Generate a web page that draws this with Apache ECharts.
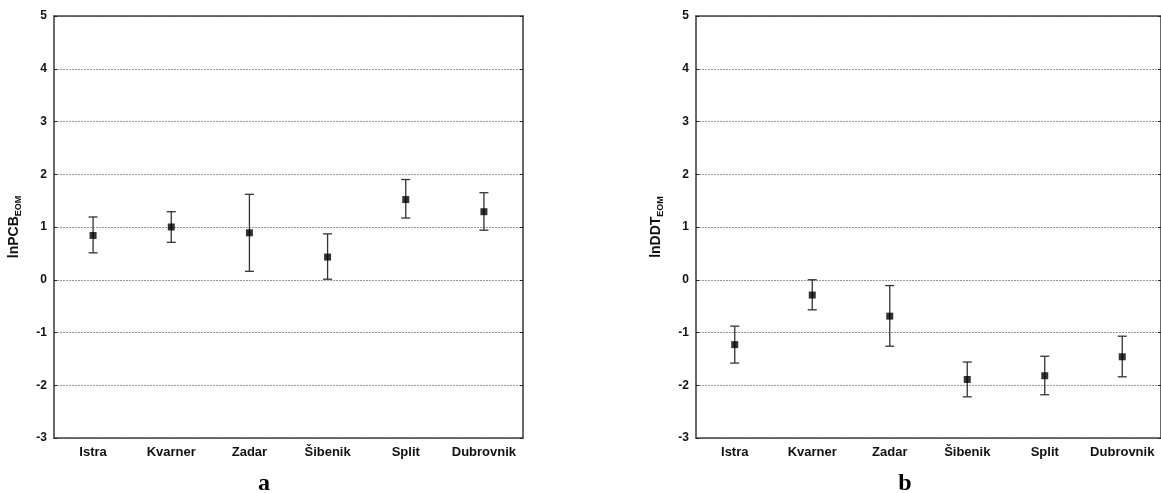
<!DOCTYPE html>
<html>
<head>
<meta charset="utf-8">
<script src="https://cdn.jsdelivr.net/npm/echarts@6/dist/echarts.min.js"></script>
<style>html,body{margin:0;padding:0;background:#fff;}#c{width:1161px;height:493px;}</style>
</head>
<body>
<div id="c"></div>
<script>
const categories = ['Istra', 'Kvarner', 'Zadar', 'Šibenik', 'Split', 'Dubrovnik'];
const yTicks = [-3, -2, -1, 0, 1, 2, 3, 4, 5];

const pcbMean = [0.84, 1.00, 0.89, 0.43, 1.52, 1.29];
const pcbLow  = [0.51, 0.71, 0.16, 0.01, 1.17, 0.94];
const pcbHigh = [1.19, 1.29, 1.62, 0.87, 1.90, 1.65];

const ddtMean = [-1.23, -0.29, -0.69, -1.89, -1.82, -1.46];
const ddtLow  = [-1.58, -0.57, -1.26, -2.22, -2.18, -1.84];
const ddtHigh = [-0.88, 0.00, -0.11, -1.56, -1.45, -1.07];

const FONT = '"Liberation Sans", Arial, sans-serif';
const AX = '#444';

function bottomX(g) {
  return {
    type: 'category', gridIndex: g, data: categories, position: 'bottom',
    axisLine: {onZero: false, lineStyle: {color: AX, width: 1.6}},
    axisTick: {interval: 0, inside: true, length: 4, lineStyle: {color: '#222', width: 1.5}},
    axisLabel: {interval: 0, hideOverlap: false, color: '#111', fontFamily: FONT, fontWeight: 'bold', fontSize: 13, margin: 8},
    splitLine: {show: false}
  };
}
function topX(g) {
  return {
    type: 'category', gridIndex: g, data: categories, position: 'top',
    axisLine: {onZero: false, lineStyle: {color: AX, width: 1.6}},
    axisTick: {interval: 0, inside: true, length: 4, lineStyle: {color: '#222', width: 1.5}},
    axisLabel: {show: false}, splitLine: {show: false}
  };
}
function leftY(g, title) {
  return {
    type: 'value', gridIndex: g, min: yTicks[0], max: yTicks[yTicks.length - 1], interval: 1,
    position: 'left',
    axisLine: {show: true, onZero: false, lineStyle: {color: AX, width: 1.6}},
    axisTick: {show: true, inside: true, length: 3, lineStyle: {color: '#222'}},
    axisLabel: {color: '#111', fontFamily: FONT, fontWeight: 'bold', fontSize: 12, margin: 7},
    splitLine: {show: true, lineStyle: {color: '#999', type: [2, 1], width: 1}},
    name: '{m|' + title + '}{s|EOM}',
    nameLocation: 'middle', nameRotate: 90, nameGap: 33,
    nameTextStyle: {
      rich: {
        m: {fontFamily: FONT, fontWeight: 'bold', fontSize: 14, color: '#111', lineHeight: 16, verticalAlign: 'bottom'},
        s: {fontFamily: FONT, fontWeight: 'bold', fontSize: 9, color: '#111', lineHeight: 16, verticalAlign: 'bottom', padding: [0, 0, -2, 0]}
      }
    }
  };
}
function rightY(g) {
  return {
    type: 'value', gridIndex: g, min: yTicks[0], max: yTicks[yTicks.length - 1], interval: 1,
    position: 'right',
    axisLine: {show: true, onZero: false, lineStyle: {color: AX, width: 1.6}},
    axisTick: {show: true, inside: true, length: 3, lineStyle: {color: '#222'}},
    axisLabel: {show: false}, splitLine: {show: false}
  };
}

function errData(lo, hi) { return categories.map((c, i) => [i, lo[i], hi[i]]); }
function meanData(m) { return categories.map((c, i) => [i, m[i]]); }

function renderErr(params, api) {
  const x = api.value(0);
  const p1 = api.coord([x, api.value(1)]);
  const p2 = api.coord([x, api.value(2)]);
  const hw = 4.5;
  const st = {stroke: '#333', lineWidth: 1.3};
  return {
    type: 'group',
    children: [
      {type: 'line', shape: {x1: p1[0], y1: p1[1], x2: p2[0], y2: p2[1]}, style: st},
      {type: 'line', shape: {x1: p1[0] - hw, y1: p1[1], x2: p1[0] + hw, y2: p1[1]}, style: st},
      {type: 'line', shape: {x1: p2[0] - hw, y1: p2[1], x2: p2[0] + hw, y2: p2[1]}, style: st}
    ]
  };
}

const chart = echarts.init(document.getElementById('c'), null, {renderer: 'canvas'});
chart.setOption({
  animation: false,
  backgroundColor: '#fff',
  grid: [
    {left: 54, top: 16, width: 469, height: 422},
    {left: 696, top: 16, width: 469, height: 422}
  ],
  xAxis: [bottomX(0), topX(0), bottomX(1), topX(1)],
  yAxis: [leftY(0, 'lnPCB'), rightY(0), leftY(1, 'lnDDT'), rightY(1)],
  series: [
    {type: 'custom', xAxisIndex: 0, yAxisIndex: 0, data: errData(pcbLow, pcbHigh), renderItem: renderErr, z: 3},
    {type: 'scatter', xAxisIndex: 0, yAxisIndex: 0, data: meanData(pcbMean), symbol: 'rect', symbolSize: 7, itemStyle: {color: '#000'}, z: 4},
    {type: 'custom', xAxisIndex: 2, yAxisIndex: 2, data: errData(ddtLow, ddtHigh), renderItem: renderErr, z: 3},
    {type: 'scatter', xAxisIndex: 2, yAxisIndex: 2, data: meanData(ddtMean), symbol: 'rect', symbolSize: 7, itemStyle: {color: '#000'}, z: 4}
  ],
  graphic: [
    {type: 'text', x: 264, y: 484, style: {text: 'a', font: 'bold 24px "Liberation Serif", "Times New Roman", serif', fill: '#000', textAlign: 'center', textVerticalAlign: 'middle'}},
    {type: 'text', x: 905, y: 484, style: {text: 'b', font: 'bold 24px "Liberation Serif", "Times New Roman", serif', fill: '#000', textAlign: 'center', textVerticalAlign: 'middle'}}
  ]
});
</script>
</body>
</html>
